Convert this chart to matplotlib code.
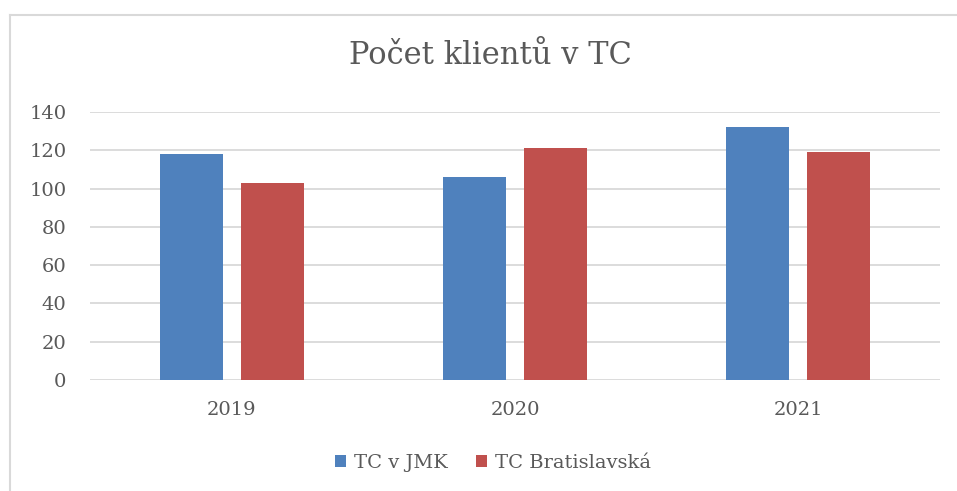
import matplotlib
matplotlib.use("Agg")
import matplotlib.pyplot as plt
import numpy as np
from matplotlib.lines import Line2D

# data
years = ["2019", "2020", "2021"]
tc_jmk = [118, 106, 132]
tc_bratislavska = [103, 121, 119]
series_names = ["TC v JMK", "TC Bratislavská"]

blue = "#4F81BD"
red = "#C0504D"
text_col = "#595959"
grid_col = "#D9D9D9"

plt.rcParams['font.family'] = ['DejaVu Serif']

fig = plt.figure(figsize=(9.57, 4.91), dpi=100)
ax = fig.add_axes([90 / 957, 1 - 380 / 491, 850 / 957, 268 / 491])

x = np.arange(len(years))
width = 0.223
off = 0.143

# bars
ax.bar(x - off, tc_jmk, width, color=blue, label=series_names[0], zorder=3)
ax.bar(x + off, tc_bratislavska, width, color=red, label=series_names[1], zorder=3)

ax.set_xlim(-0.5, len(years) - 0.5)
ax.set_ylim(0, 140)
ax.set_yticks(range(0, 141, 20))
ax.set_xticks(x)
ax.set_xticklabels(years)

# excel-like grid and no spines
ax.yaxis.grid(True, color=grid_col, linewidth=1.3, zorder=0)
for s in ax.spines.values():
    s.set_visible(False)
ax.tick_params(axis='both', length=0, labelsize=14, colors=text_col)
ax.tick_params(axis='y', pad=17)
ax.tick_params(axis='x', pad=15)

fig.text(490 / 957, 1 - 56 / 491, "Počet klientů v TC", ha='center', va='center',
         fontsize=22, color=text_col)

leg = fig.legend(loc='center', bbox_to_anchor=(493 / 957, 1 - 463 / 491), ncol=2,
                 frameon=False, fontsize=14, handlelength=0.55, handleheight=0.55,
                 handletextpad=0.4, columnspacing=1.5)
for t in leg.get_texts():
    t.set_color(text_col)

# chart area frame, only the top and left edges are in the picture
fx = 10 / 957
fy = 1 - 15 / 491
fig.add_artist(Line2D([fx, 1.0], [fy, fy], transform=fig.transFigure,
                      color=grid_col, linewidth=1.5))
fig.add_artist(Line2D([fx, fx], [0.0, fy], transform=fig.transFigure,
                      color=grid_col, linewidth=1.5))

fig.savefig("out.png", dpi=100)
